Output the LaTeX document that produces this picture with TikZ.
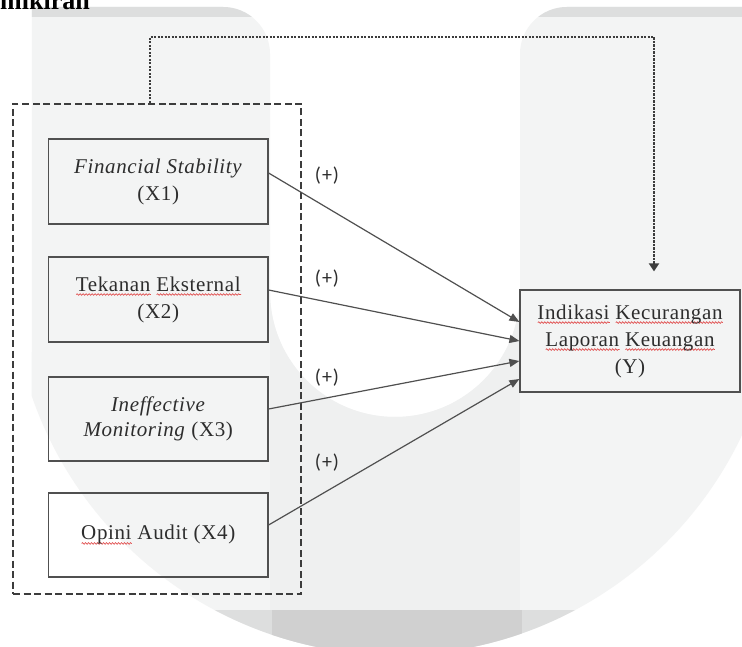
\documentclass[tikz,border=0pt]{standalone}
\usepackage{fontspec}
\usetikzlibrary{arrows.meta,decorations.pathmorphing}
\setmainfont{Liberation Serif}
\newfontfamily\boxfont{Liberation Serif}[LetterSpace=3]
\newfontfamily\labfont{Carlito}[LetterSpace=5]
\definecolor{wmbase}{RGB}{243,244,244}
\definecolor{wmtop}{RGB}{221,222,222}
\definecolor{wmmid}{RGB}{239,240,240}
\definecolor{wmbot}{RGB}{221,222,222}
\definecolor{wmbotmid}{RGB}{208,208,208}
\definecolor{boxline}{RGB}{80,80,80}
\definecolor{dashc}{RGB}{60,60,60}
\definecolor{txt}{RGB}{45,45,45}
\definecolor{squigred}{RGB}{225,80,80}
\newsavebox{\sqbox}
\newlength{\sqlen}
\newcommand{\squig}[1]{\sbox{\sqbox}{#1}\setlength{\sqlen}{\wd\sqbox}\leavevmode\rlap{\tikz[x=1pt,y=1pt,baseline=0pt]\draw[squigred, line width=0.7pt, decorate, decoration={snake, amplitude=0.8pt, segment length=3pt}] (0,-3.5) -- (\sqlen,-3.5);}\usebox{\sqbox}}
\tikzset{
  varbox/.style={draw=boxline, line width=1.2pt, minimum width=219.5pt, inner sep=0pt,
    align=center, text=txt, font=\boxfont\fontsize{21}{27}\selectfont},
  grpbox/.style={draw=dashc, line width=2pt, dash pattern=on 7pt off 3.5pt,
    minimum width=288pt, minimum height=490pt, inner sep=0pt},
  plus/.style={text=txt, inner sep=0pt, font=\labfont\fontsize{20}{22}\selectfont},
  conn/.style={draw=boxline, line width=1.2pt, -{Triangle[length=10pt,width=8pt]}},
  dotconn/.style={draw=dashc, line width=2.2pt, dash pattern=on 2.2pt off 1.3pt,
    -{Triangle[length=8pt,width=10pt]}}
}
\begin{document}
\begin{tikzpicture}[x=1pt,y=-1pt]
\useasboundingbox (0,0) rectangle (742,647);
\clip (0,0) rectangle (742,647);
\fill[white] (0,0) rectangle (742,647);
% watermark
\fill[wmbase] (32,7) -- (223,7) arc[start angle=-90,end angle=0,radius=47] -- (270,292)
  arc[start angle=180,end angle=0,radius=125] -- (520,54)
  arc[start angle=180,end angle=270,radius=47] -- (779,7) -- (778.8,270.9)
  arc[start angle=0,end angle=161,radius=384] -- cycle;
\begin{scope}
\clip (32,7) -- (223,7) arc[start angle=-90,end angle=0,radius=47] -- (270,292)
  arc[start angle=180,end angle=0,radius=125] -- (520,54)
  arc[start angle=180,end angle=270,radius=47] -- (779,7) -- (778.8,270.9)
  arc[start angle=0,end angle=161,radius=384] -- cycle;
\fill[wmtop] (0,0) rectangle (742,17);
\fill[wmmid] (270,292) rectangle (520,647);
\fill[wmbot] (0,610) rectangle (742,647);
\fill[wmbotmid] (272,610) rectangle (522,647);
\end{scope}
% title fragment
\node[anchor=base west, inner sep=0pt, font=\fontsize{26}{30}\selectfont\bfseries] (title) at (0,9.5) {mikiran};
% group
\node[grpbox] (grp) at (157,349) {};
% boxes
\node[varbox, minimum height=85pt] (x1) at (158.25,181.5) {\textit{Financial Stability}\\(X1)};
\node[varbox, minimum height=85pt] (x2) at (158.25,299.5) {\squig{Tekanan} \squig{Eksternal}\\(X2)};
\node[varbox, minimum height=84pt, font=\boxfont\fontsize{21}{25}\selectfont] (x3) at (158.25,419) {\textit{Ineffective}\\\textit{Monitoring} (X3)};
\node[varbox, minimum height=84pt] (x4) at (158.25,535) {\squig{Opini} Audit (X4)};
\node[varbox, minimum width=220pt, minimum height=102pt] (y) at (630,341)
  {\squig{Indikasi} \squig{Kecurangan}\\\squig{Laporan} \squig{Keuangan}\\(Y)};
% labels
\node[plus] (p1) at (327,176) {(+)};
\node[plus] (p2) at (327,279) {(+)};
\node[plus] (p3) at (327,378) {(+)};
\node[plus] (p4) at (327,463) {(+)};
% connectors
\draw[conn] ([yshift=8.5pt]x1.east) -- ([yshift=19pt]y.west);
\draw[conn] ([yshift=9.5pt]x2.east) -- (y.west);
\draw[conn] ([yshift=10pt]x3.east) -- ([yshift=-20pt]y.west);
\draw[conn] ([yshift=10pt]x4.east) -- ([yshift=-38pt]y.west);
\coordinate (c1) at (150,37);
\coordinate (c2) at (654,37);
\draw[dotconn, shorten >=18pt] (grp.north -| c1) -- (c1) -- (c2) -- (y.north -| c2);
\end{tikzpicture}
\end{document}
